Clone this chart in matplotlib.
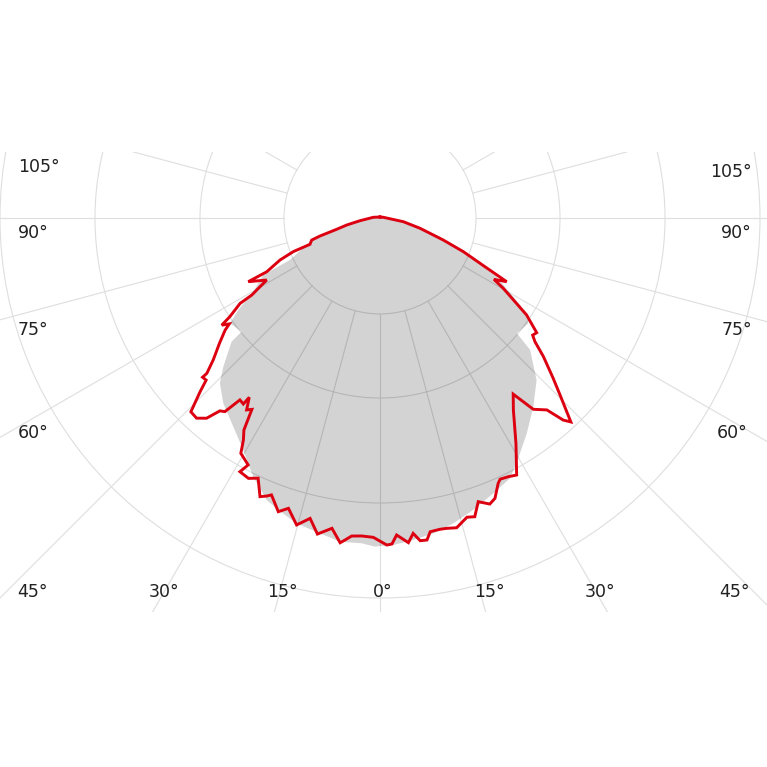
import matplotlib.pyplot as plt
from matplotlib.patches import Polygon, Circle
import numpy as np

# polar intensity diagram, angles in degrees from nadir (0 = straight down)
ring_values = [96, 180, 285, 380]
spoke_angles = np.arange(0, 360, 15)

# red curve, left half and right half (angle, intensity), from 0 deg upward
red_left_deg = [1.2, 3.3, 5.1, 6.2, 7.0, 8.8, 11.2, 13.1, 15.2, 17.5, 19.1, 21.4, 22.1, 23.3,
                25.1, 26.8, 28.9, 28.1, 30.6, 31.6, 32.7, 33.8, 34.8, 36.1, 36.3, 37.6, 38.7,
                39.7, 40.9, 42.5, 44.3, 45.0, 46.0, 47.0, 48.1, 48.1, 49.6, 52.1, 54.1, 54.9,
                55.9, 56.7, 58.6, 59.0, 59.7, 61.3, 64.2, 64.6, 67.2, 68.8, 69.4, 72.1, 73.3,
                75.4, 78.1, 82.3, 96, 180]
red_left_val = [319.4, 318.5, 319.3, 323.9, 327.2, 314.0, 322.2, 308.4, 318.1, 304.4, 310.8,
                297.4, 300.0, 303.4, 287.3, 291.7, 289.8, 279.9, 273.4, 260.7, 251.9, 230.3,
                233.7, 221.9, 230.8, 229.6, 248.1, 250.7, 264.9, 271.5, 270.8, 261.8, 250.1,
                237.7, 238.4, 232.7, 219.0, 203.2, 191.2, 184.2, 191.1, 179.6, 163.9, 149.6,
                142.8, 129.2, 146.3, 125.4, 108.5, 93.0, 74.8, 71.8, 62.6, 44.7, 34.0, 20.2,
                6.7, 1]
red_right_deg = [1.2, 2.1, 3.0, 5.0, 6.0, 7.1, 8.3, 9.1, 10.9, 12.1, 13.9, 16.2, 17.6, 19.1,
                 21.0, 22.3, 24.0, 24.7, 26.4, 28.0, 31.1, 34.8, 37.1, 38.7, 41.0, 42.2, 43.1,
                 45.5, 47.2, 49.7, 51.4, 52.5, 53.8, 55.7, 56.5, 60.3, 61.7, 63.3, 65.1, 68.0,
                 70.8, 75.6, 81.0, 102, 180]
red_right_val = [327.1, 326.2, 317.4, 325.9, 317.1, 325.2, 325.4, 317.7, 317.0, 317.4, 319.1,
                 311.6, 313.4, 300.2, 306.4, 303.0, 290.5, 287.5, 288.8, 291.1, 263.2, 233.7,
                 220.8, 245.1, 254.3, 272.8, 279.3, 252.4, 236.1, 214.3, 198.3, 192.4, 194.2,
                 180.8, 175.9, 141.9, 129.4, 141.8, 115.7, 89.9, 67.0, 41.3, 23.6, 3.4, 1]

# grey filled curve
grey_left_deg = [0, 0.9, 3.2, 7.0, 10.8, 15.3, 19.2, 21.9, 26.1, 30.5, 35.1, 40.2, 44.1, 46.5,
                 50.2, 50.6, 54.9, 57.0, 59.8, 64.0, 65.0, 72.6, 77.8, 81.5, 96, 180]
grey_left_val = [328, 328.7, 325.8, 326.2, 321.0, 316.5, 309.2, 303.9, 288.1, 269.3, 255.1,
                 242.7, 230.1, 216.0, 193.1, 179.0, 183.3, 168.9, 146.6, 129.9, 99.3, 70.2,
                 37.9, 20.2, 5, 1]
grey_right_deg = [0, 2.3, 5.9, 9.6, 13.5, 17.7, 22.4, 26.5, 29.1, 34.3, 39.1, 44.0, 48.7, 49.9,
                  54.6, 57.0, 63.3, 66.7, 72.7, 81.0, 96, 180]
grey_right_val = [328, 327.3, 323.7, 319.8, 314.0, 306.5, 297.7, 291.0, 280.8, 260.5, 243.1,
                  225.4, 199.8, 178.8, 181.9, 174.9, 130.6, 98.0, 62.8, 23.6, 5, 1]

left_labels = ["105°", "90°", "75°", "60°"]
bottom_labels = ["45°", "30°", "15°", "0°", "15°", "30°", "45°"]
right_labels = ["105°", "90°", "75°", "60°"]


def to_xy(deg, val, side):
    t = np.radians(np.asarray(deg, dtype=float))
    v = np.asarray(val, dtype=float)
    return side * v * np.sin(t), -v * np.cos(t)


def outline(ldeg, lval, rdeg, rval):
    lx, ly = to_xy(ldeg[::-1], lval[::-1], -1)     # top -> bottom on the left
    rx, ry = to_xy(rdeg, rval, 1)                  # bottom -> top on the right
    return np.column_stack([np.concatenate([lx, rx]), np.concatenate([ly, ry])])


def draw_grid(ax, color, clip=None):
    arts = []
    z = 3 if clip is not None else 1
    for rv in ring_values:
        c = Circle((0, 0), rv, fill=False, ec=color, lw=0.8, zorder=z)
        ax.add_patch(c)
        arts.append(c)
    for a in spoke_angles:
        t = np.radians(a)
        ln, = ax.plot([ring_values[0] * np.sin(t), 700 * np.sin(t)],
                      [-ring_values[0] * np.cos(t), -700 * np.cos(t)],
                      color=color, lw=0.8, zorder=z)
        arts.append(ln)
    if clip is not None:
        for a in arts:
            a.set_clip_path(clip)


fig = plt.figure(figsize=(7.67, 7.67), dpi=100)
ax = fig.add_axes([0, 155 / 767, 1, 460 / 767])
ax.set_xlim(-380, 387)
ax.set_ylim(-394, 66)
ax.axis("off")

draw_grid(ax, "#dedede")

grey = Polygon(outline(grey_left_deg, grey_left_val, grey_right_deg, grey_right_val),
               closed=True, fc="#d3d3d3", ec="none", zorder=2)
ax.add_patch(grey)
draw_grid(ax, "#b5b5b5", clip=grey)

red = outline(red_left_deg, red_left_val, red_right_deg, red_right_val)
ax.plot(np.append(red[:, 0], red[0, 0]), np.append(red[:, 1], red[0, 1]),
        color="#dc0010", lw=2.1, zorder=4, solid_joinstyle="miter")

# angle labels around the frame
for txt, y in zip(left_labels, [51, -15, -112, -215]):
    ax.text(-362, y, txt, ha="left", va="center", fontsize=12.5, color="#222222")
for txt, x in zip(bottom_labels, [-348, -216, -98, 3, 109, 220, 354]):
    ax.text(x, -374, txt, ha="center", va="center", fontsize=12.5, color="#222222")
for txt, x, y in zip(right_labels, [372, 372, 372, 368], [46, -15, -112, -215]):
    ax.text(x, y, txt, ha="right", va="center", fontsize=12.5, color="#222222")

fig.savefig("out.png", dpi=100, facecolor="white")
